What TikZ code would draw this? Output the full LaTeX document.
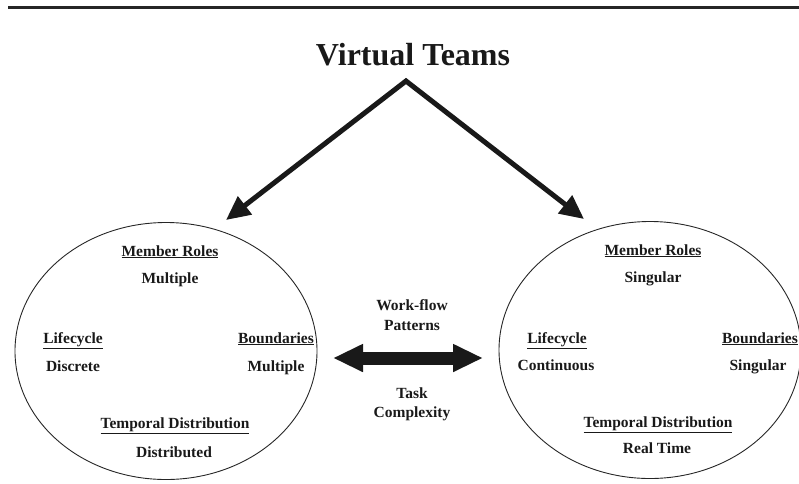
\documentclass[tikz,border=0pt]{standalone}
\usepackage{fontspec}
\setmainfont{Liberation Serif}
\usetikzlibrary{arrows.meta,shapes.geometric}

\begin{document}
\begin{tikzpicture}[x=1pt,y=-1pt,font=\bfseries\fontsize{15.5}{18}\selectfont,
 txt/.style={anchor=base,inner sep=0pt,text=black!90},
 team/.style={draw=black!85,line width=0.9pt,ellipse,minimum width=302pt,minimum height=257pt,inner sep=0pt},
 split/.style={draw=black!90,line width=5pt,miter limit=20,{Triangle[length=24pt,width=22pt]}-{Triangle[length=24pt,width=22pt]}},
 flow/.style={draw=black!90,line width=13pt,{Triangle[length=30pt,width=26pt]}-{Triangle[length=30pt,width=26pt]}}]
 \useasboundingbox (0,0) rectangle (799,483);
 \draw[line width=2.5pt,black!85] (8,7.3) -- (799,7.3);
 \node[txt,font=\bfseries\fontsize{32}{36}\selectfont] (vt) at (413,65) {Virtual Teams};
 % the two kinds of team
 \node[team] (multi) at (166,351) {};
 \node[team] (single) at (650,350) {};
 \coordinate (apex) at (406,81);
 \coordinate (ltip) at (226,220);
 \coordinate (rtip) at (584,219);
 \draw[split] (ltip) -- (apex) -- (rtip);
 % left
 \node[txt] (mrA) at (170,256) {\underline{Member Roles}};
 \node[txt] (mrAv) at (170,283) {Multiple};
 \node[txt] (lcA) at (73,343) {\underline{Lifecycle}};
 \node[txt] (lcAv) at (73,371) {Discrete};
 \node[txt] (bdA) at (276,343) {\underline{Boundaries}};
 \node[txt] (bdAv) at (276,371) {Multiple};
 \node[txt] (tdA) at (175,428) {\underline{Temporal Distribution}};
 \node[txt] (tdAv) at (174,457) {Distributed};
 % right
 \node[txt] (mrB) at (653,255) {\underline{Member Roles}};
 \node[txt] (mrBv) at (653,282) {Singular};
 \node[txt] (lcB) at (557,343) {\underline{Lifecycle}};
 \node[txt] (lcBv) at (556,370) {Continuous};
 \node[txt] (bdB) at (760,343) {\underline{Boundaries}};
 \node[txt] (bdBv) at (758,370) {Singular};
 \node[txt] (tdB) at (658,427) {\underline{Temporal Distribution}};
 \node[txt] (tdBv) at (657,453) {Real Time};
 % middle
 \node[txt] (wf) at (412,310) {Work-flow};
 \node[txt] (wfp) at (412,330) {Patterns};
 \node[txt] (tk) at (412,398) {Task};
 \node[txt] (tkc) at (412,417) {Complexity};
 \coordinate (dl) at (333,358);
 \coordinate (dr) at (483,358);
 \draw[flow] (dl) -- (dr);
\end{tikzpicture}
\end{document}
